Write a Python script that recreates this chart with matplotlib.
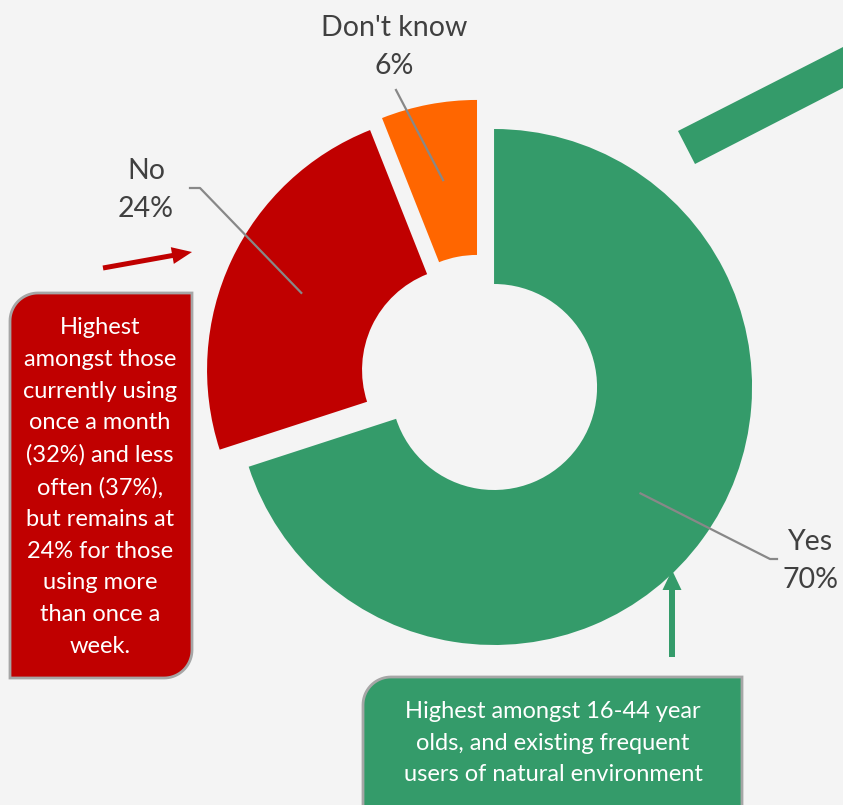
import numpy as np
import matplotlib
matplotlib.use("Agg")
import matplotlib.pyplot as plt
from matplotlib.patches import Polygon, FancyArrow

# data
labels = ["Yes", "No", "Don't know"]
values = [70, 24, 6]
colors = ["#349B6A", "#C00000", "#FF6600"]
explode = [16.5, 17.3, 19.7]

red_note = ("Highest\namongst those\ncurrently using\nonce a month\n(32%) and less\n"
            "often (37%),\nbut remains at\n24% for those\nusing more\nthan once a\nweek.")
green_note = "Highest amongst 16-44 year\nolds, and existing frequent\nusers of natural environment"

W, H = 843, 805
BG = "#F4F4F4"
plt.rcParams['font.family'] = ['Lato', 'DejaVu Sans']

fig = plt.figure(figsize=(W / 100, H / 100), dpi=100, facecolor=BG)
ax = fig.add_axes([0, 0, 1, 1])
ax.set_facecolor(BG)


def Y(y):
    # picture rows -> axes units
    return H - y


wedges, _ = ax.pie(values, colors=colors, startangle=90, counterclock=False,
                   explode=explode, radius=258, center=(480.7, Y(377.3)),
                   wedgeprops=dict(width=155, linewidth=0))
ax.set_xlim(0, W)
ax.set_ylim(0, H)
ax.set_aspect('auto')
ax.axis('off')


def anchor(w, r=181):
    t = np.radians((w.theta1 + w.theta2) / 2)
    cx, cy = w.center
    return cx + r * np.cos(t), cy + r * np.sin(t)


lab_col = "#404040"
line_col = "#888888"
fs_lab = 20.5
ls_lab = 1.55

# Yes label
ax_, ay_ = anchor(wedges[0])
ax.plot([ax_, 770, 777], [ay_, Y(559), Y(559)], color=line_col, lw=1.6)
ax.text(811, Y(561), "Yes\n70%", ha='center', va='center', fontsize=fs_lab,
        color=lab_col, linespacing=ls_lab)
# No label
ax_, ay_ = anchor(wedges[1])
ax.plot([ax_, 200, 190], [ay_, Y(188), Y(188)], color=line_col, lw=1.6)
ax.text(146, Y(190), "No\n24%", ha='center', va='center', fontsize=fs_lab,
        color=lab_col, linespacing=ls_lab)
# Don't know label
ax_, ay_ = anchor(wedges[2])
ax.plot([ax_, 396], [ay_, Y(90)], color=line_col, lw=1.6)
ax.text(394, Y(47), "Don't know\n6%", ha='center', va='center', fontsize=fs_lab,
        color=lab_col, linespacing=ls_lab)


def rbox(x0, y0, x1, y1, radii, n=20):
    # corners: top-left, top-right, bottom-right, bottom-left (y up)
    tl, tr, br, bl = radii
    pts = []
    for (cx, cy, r, a0) in [(x0 + tl, y1 - tl, tl, 90), (x1 - tr, y1 - tr, tr, 0),
                            (x1 - br, y0 + br, br, -90), (x0 + bl, y0 + bl, bl, -180)]:
        if r == 0:
            pts.append((cx, cy))
            continue
        for a in np.linspace(a0 + 90, a0, n):
            pts.append((cx + r * np.cos(np.radians(a)), cy + r * np.sin(np.radians(a))))
    return pts


# red note
ax.add_patch(Polygon(rbox(10, Y(678), 192, Y(293), (28, 0, 28, 0)), closed=True,
                     facecolor="#C00000", edgecolor="#A6A6A6", lw=2, zorder=3))
ax.text(100, Y(487), red_note, ha='center', va='center', fontsize=17, color='white',
        linespacing=1.63, zorder=4)

# green note
ax.add_patch(Polygon(rbox(363, Y(840), 742, Y(677), (28, 0, 28, 0)), closed=True,
                     facecolor="#349B6A", edgecolor="#A6A6A6", lw=2, zorder=3))
ax.text(553, Y(743), green_note, ha='center', va='center', fontsize=17, color='white',
        linespacing=1.6, zorder=4)

# arrows
ax.add_patch(FancyArrow(103, Y(268), 89, 16, width=5, head_width=17, head_length=20,
                        length_includes_head=True, color="#C00000", lw=0))
ax.add_patch(FancyArrow(672, Y(657), 0, 87, width=6, head_width=19, head_length=20,
                        length_includes_head=True, color="#349B6A", lw=0))
ax.add_patch(Polygon([(678, Y(131)), (843, Y(47)), (843, Y(88)), (695, Y(164))],
                     closed=True, facecolor="#349B6A", lw=0))

fig.savefig("out.png", dpi=100, facecolor=BG)
